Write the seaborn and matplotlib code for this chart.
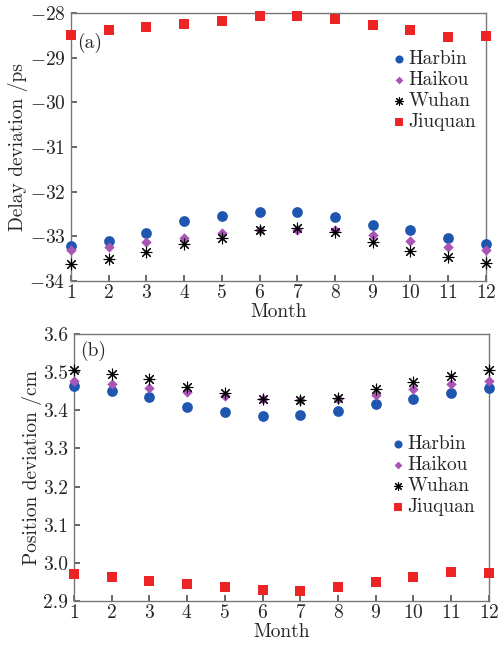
import matplotlib
matplotlib.use('Agg')
import seaborn as sns
import matplotlib.pyplot as plt
import pandas as pd

# data
months = list(range(1, 13))
cities = ['Harbin', 'Haikou', 'Wuhan', 'Jiuquan']

delay_harbin = [-33.21, -33.10, -32.92, -32.66, -32.54, -32.45, -32.46, -32.57, -32.74, -32.86, -33.04, -33.17]
delay_haikou = [-33.31, -33.25, -33.13, -33.03, -32.93, -32.86, -32.86, -32.86, -32.97, -33.10, -33.23, -33.31]
delay_wuhan = [-33.61, -33.50, -33.36, -33.17, -33.03, -32.86, -32.82, -32.91, -33.12, -33.32, -33.47, -33.59]
delay_jiuquan = [-28.49, -28.39, -28.31, -28.25, -28.17, -28.07, -28.06, -28.13, -28.26, -28.39, -28.53, -28.51]

pos_harbin = [3.464, 3.452, 3.434, 3.408, 3.395, 3.385, 3.387, 3.398, 3.416, 3.429, 3.446, 3.459]
pos_haikou = [3.476, 3.469, 3.459, 3.447, 3.437, 3.430, 3.427, 3.431, 3.440, 3.457, 3.468, 3.476]
pos_wuhan = [3.506, 3.495, 3.481, 3.462, 3.446, 3.430, 3.427, 3.433, 3.457, 3.475, 3.491, 3.506]
pos_jiuquan = [2.970, 2.962, 2.953, 2.944, 2.938, 2.930, 2.926, 2.937, 2.949, 2.962, 2.977, 2.973]

delay = {'Harbin': delay_harbin, 'Haikou': delay_haikou, 'Wuhan': delay_wuhan, 'Jiuquan': delay_jiuquan}
pos = {'Harbin': pos_harbin, 'Haikou': pos_haikou, 'Wuhan': pos_wuhan, 'Jiuquan': pos_jiuquan}

colors = {'Harbin': '#1f56b0', 'Haikou': '#a855b5', 'Wuhan': 'black', 'Jiuquan': '#ee2424'}
markers = {'Harbin': 'o', 'Haikou': 'D', 'Wuhan': (8, 2, 0), 'Jiuquan': 's'}
sizes = {'Harbin': 60, 'Haikou': 28, 'Wuhan': 60, 'Jiuquan': 50}

sns.set_theme(style='white')
plt.rcParams['font.family'] = ['cmr10', 'DejaVu Serif']
plt.rcParams['mathtext.fontset'] = 'cm'
plt.rcParams['axes.formatter.use_mathtext'] = True

fig = plt.figure(figsize=(5.02, 6.5), dpi=100)
ax1 = fig.add_axes([0.1414, 0.5677, 0.8266, 0.4123])
ax2 = fig.add_axes([0.147, 0.0754, 0.827, 0.4106])


def draw(ax, data, ylabel, tag, tag_y, ylim, yticks, legend_anchor):
    for c in cities:
        df = pd.DataFrame({'Month': months, 'val': data[c]})
        lw = 0.8 if c == 'Wuhan' else 0
        sns.scatterplot(data=df, x='Month', y='val', ax=ax, marker=markers[c],
                        color=colors[c], s=sizes[c], linewidth=lw, label=c, clip_on=False, zorder=3)
    ax.set_xlim(1, 12)
    ax.set_ylim(*ylim)
    ax.set_xticks(months)
    ax.set_yticks(yticks)
    ax.set_xlabel('Month', fontsize=14, labelpad=1)
    ax.set_ylabel(ylabel, fontsize=14, labelpad=1)
    ax.tick_params(direction='in', length=4, labelsize=14, color='#555555',
                   bottom=True, left=True, pad=2)
    ax.tick_params(axis='y', pad=4)
    for sp in ax.spines.values():
        sp.set_color('#777777')
        sp.set_linewidth(1.0)
    ax.text(0.015, tag_y, tag, transform=ax.transAxes, fontsize=14, va='top', ha='left')
    ax.legend(loc='center right', frameon=False, fontsize=14, handletextpad=0.0,
              labelspacing=0.15, borderaxespad=0.1, markerscale=0.75, handlelength=1.0,
              bbox_to_anchor=legend_anchor)


draw(ax1, delay, 'Delay deviation /ps', '(a)', 0.925, (-34, -28),
     [-34, -33, -32, -31, -30, -29, -28], (1.0, 0.71))
draw(ax2, pos, 'Position deviation /cm', '(b)', 0.975, (2.9, 3.6),
     [2.9, 3.0, 3.1, 3.2, 3.3, 3.4, 3.5, 3.6], (0.99, 0.47))
ax2.yaxis.set_major_formatter(matplotlib.ticker.FormatStrFormatter('%.1f'))

fig.savefig('out.png', dpi=100)
